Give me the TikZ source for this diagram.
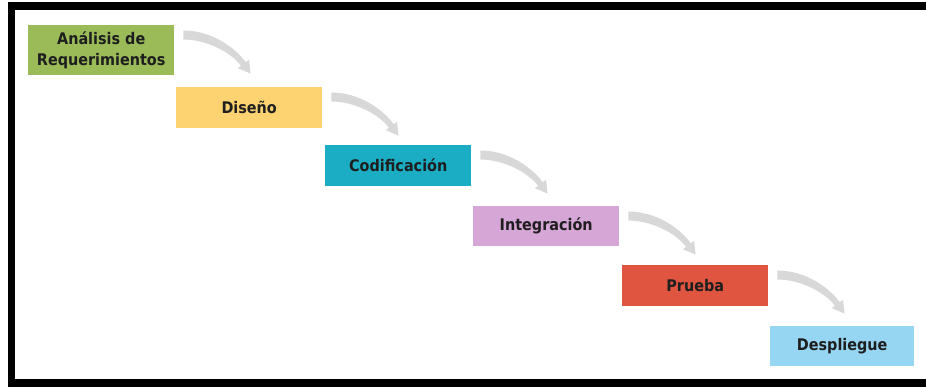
\documentclass[tikz,border=0pt]{standalone}
\usepackage{fontspec}
\setmainfont[FakeStretch=0.9]{DejaVu Sans}
\usetikzlibrary{calc}

\definecolor{cgreen}{HTML}{9BBB59}
\definecolor{cyellow}{HTML}{FDD372}
\definecolor{cteal}{HTML}{1AADC4}
\definecolor{cpink}{HTML}{D6A6D6}
\definecolor{cred}{HTML}{E0553F}
\definecolor{cblue}{HTML}{96D6F3}
\definecolor{arrowgray}{HTML}{D8D8D8}
\definecolor{textdark}{HTML}{1E1E1E}

\tikzset{
  stage/.style={rectangle, anchor=north west, inner sep=0pt,
    minimum width=146pt, minimum height=41pt, align=center,
    text=textdark, font=\bfseries\fontsize{16}{20.5}\selectfont},
  % tapered bent arrow between two consecutive stages
  pics/bendarrow/.style={code={
    \fill[arrowgray] (0,-4.5) .. controls (27,-4.5) and (50.4,11.2) .. (62.4,27.2)
      -- (65.6,24.8) -- (67.2,38.6) -- (54.4,33.2) -- (57.6,30.8)
      .. controls (46.8,16.4) and (22,4.5) .. (0,4.5) -- cycle;
  }}
}

\begin{document}
\begin{tikzpicture}[x=1pt,y=-1pt]
  \useasboundingbox (0,0) rectangle (926,387);

  % frame
  \fill[black] (8,2) rectangle (926,10);
  \fill[black] (8,2) rectangle (15,387);
  \fill[black] (8,379) rectangle (926,387);

  % stages
  \node[stage, fill=cgreen, minimum height=50pt] (analisis) at (28,25) {Análisis de\\Requerimientos};
  \node[stage, fill=cyellow] (diseno) at (176,87) {Diseño};
  \node[stage, fill=cteal] (codif) at (325,145) {Codificación};
  \node[stage, fill=cpink, minimum height=40pt] (integ) at (473,206) {Integración};
  \node[stage, fill=cred] (prueba) at (622,265) {Prueba};
  \node[stage, fill=cblue, minimum width=144pt, minimum height=40pt] (despl) at (770,326) {Despliegue};

  % arrows
  \pic at ($(analisis.north east)+(9,10)$) {bendarrow};
  \pic at ($(diseno.north east)+(9,10)$) {bendarrow};
  \pic at ($(codif.north east)+(9,10)$) {bendarrow};
  \pic at ($(integ.north east)+(9,10)$) {bendarrow};
  \pic at ($(prueba.north east)+(9,10)$) {bendarrow};
\end{tikzpicture}
\end{document}
